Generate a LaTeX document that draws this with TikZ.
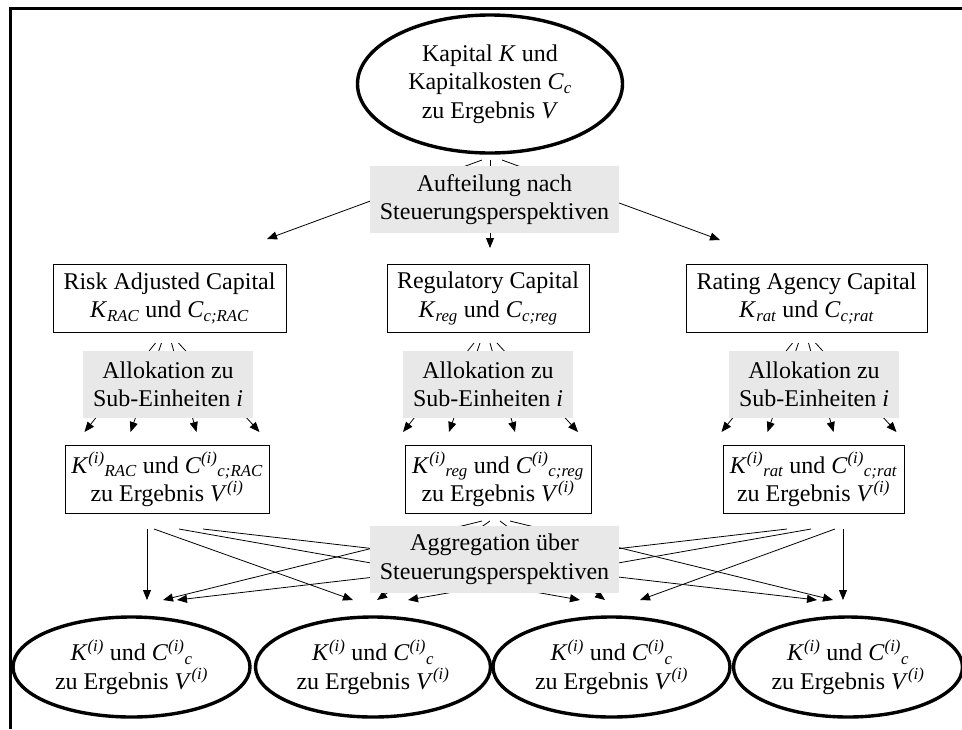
\documentclass[tikz,border=0pt]{standalone}
\usepackage{fontspec}
\setmainfont{Liberation Serif}
\usepackage{xcolor}
\usepackage{tikz}
\usetikzlibrary{shapes,arrows.meta}

\definecolor{hellgrau}{RGB}{232,232,232}
\newcommand{\tief}[1]{\textsubscript{\itshape #1}}
\newcommand{\hoch}[1]{\textsuperscript{\itshape #1}}

\begin{document}
\begin{tikzpicture}[x=1pt,y=-1pt,
    font=\fontsize{24}{28.5}\selectfont,
    oval/.style={draw,ellipse,line width=3.4pt,fill=white,align=center,inner sep=0pt},
    kasten/.style={draw,line width=1pt,fill=white,align=center,inner sep=0pt,minimum height=68},
    grau/.style={fill=hellgrau,align=center,inner sep=0pt,minimum height=67},
    pfeil/.style={line width=0.8pt,-{Triangle[length=10pt,width=8pt]}}]
    \useasboundingbox (0,0) rectangle (962,729);
    \draw[line width=3pt] (10,729) -- (10,8) -- (962,8);

    % Gesamtkapital
    \node[oval,minimum width=265,minimum height=138] (kap) at (490,84)
        {Kapital \textit{K} und\\Kapitalkosten \textit{C}\tief{c}\\zu Ergebnis \textit{V}};

    % Steuerungsperspektiven
    \node[kasten,minimum width=233] (rac) at (169.5,298.5)
        {Risk Adjusted Capital\\\textit{K}\tief{RAC} und \textit{C}\tief{c;RAC}};
    \node[kasten,minimum width=202] (reg) at (488,298.5)
        {Regulatory Capital\\\textit{K}\tief{reg} und \textit{C}\tief{c;reg}};
    \node[kasten,minimum width=241] (rat) at (806.5,298.5)
        {Rating Agency Capital\\\textit{K}\tief{rat} und \textit{C}\tief{c;rat}};

    % Sub-Einheiten
    \node[kasten,minimum width=204] (racI) at (167,479.5)
        {\textit{K}\hoch{(i)}\tief{RAC} und \textit{C}\hoch{(i)}\tief{c;RAC}\\zu Ergebnis \textit{V}\hoch{(i)}};
    \node[kasten,minimum width=186] (regI) at (498,479.5)
        {\textit{K}\hoch{(i)}\tief{reg} und \textit{C}\hoch{(i)}\tief{c;reg}\\zu Ergebnis \textit{V}\hoch{(i)}};
    \node[kasten,minimum width=181] (ratI) at (813.5,479.5)
        {\textit{K}\hoch{(i)}\tief{rat} und \textit{C}\hoch{(i)}\tief{c;rat}\\zu Ergebnis \textit{V}\hoch{(i)}};

    % aggregierte Ergebnisse
    \node[oval,minimum width=237,minimum height=100] (erg1) at (131.5,667)
        {\textit{K}\hoch{(i)} und \textit{C}\hoch{(i)}\tief{c}\\zu Ergebnis \textit{V}\hoch{(i)}};
    \node[oval,minimum width=235,minimum height=100] (erg2) at (373,667)
        {\textit{K}\hoch{(i)} und \textit{C}\hoch{(i)}\tief{c}\\zu Ergebnis \textit{V}\hoch{(i)}};
    \node[oval,minimum width=237,minimum height=100] (erg3) at (611.5,667)
        {\textit{K}\hoch{(i)} und \textit{C}\hoch{(i)}\tief{c}\\zu Ergebnis \textit{V}\hoch{(i)}};
    \node[oval,minimum width=229,minimum height=100] (erg4) at (848,667)
        {\textit{K}\hoch{(i)} und \textit{C}\hoch{(i)}\tief{c}\\zu Ergebnis \textit{V}\hoch{(i)}};

    % Aufteilung
    \path (482,160) coordinate (qRac) (490,160) coordinate (qReg) (502,160) coordinate (qRat);
    \path (267,239) coordinate (zRac) (490,248) coordinate (zReg) (720,240) coordinate (zRat);
    \draw[pfeil] (qRac) -- (zRac);
    \draw[pfeil] (qReg) -- (zReg);
    \draw[pfeil] (qRat) -- (zRat);

    % Allokation
    \foreach \k in {rac,reg,rat}{
        \foreach \sx/\dx [count=\n] in {-14/-85,-8/-39,2/27,9/90}{
            \coordinate (\k-q\n) at ([xshift=\sx pt,yshift=-10pt]\k.south);
            \coordinate (\k-\n) at ([xshift=\dx pt,yshift=-99pt]\k.south);
            \draw[pfeil] (\k-q\n) -- (\k-\n);
        }
    }

    % Aggregation: Startpunkte unter den Kaesten, Ziele ueber den Ellipsen
    \path (147,529) coordinate (racI-1) (154,529) coordinate (racI-2)
          (179,529) coordinate (racI-3) (203,529) coordinate (racI-4);
    \path (482,521) coordinate (regI-1) (490,521) coordinate (regI-2)
          (500,521) coordinate (regI-3) (510,521) coordinate (regI-4);
    \path (787,529) coordinate (ratI-1) (811,529) coordinate (ratI-2)
          (835,529) coordinate (ratI-3) (843,529) coordinate (ratI-4);
    \path (147,600) coordinate (erg1-a) (163,600) coordinate (erg1-b) (177,600) coordinate (erg1-c)
          (353,600) coordinate (erg2-a) (377,600) coordinate (erg2-b) (408,600) coordinate (erg2-c)
          (580,600) coordinate (erg3-a) (605,600) coordinate (erg3-b) (640,600) coordinate (erg3-c)
          (817,600) coordinate (erg4-a) (833,600) coordinate (erg4-b) (843,600) coordinate (erg4-c);
    \foreach \n in {1,...,4}{
        \draw[pfeil] (racI-\n) -- (erg\n-a);
        \draw[pfeil] (regI-\n) -- (erg\n-b);
        \draw[pfeil] (ratI-\n) -- (erg\n-c);
    }

    % graue Beschriftungen liegen ueber den Pfeilen
    \node[grau,minimum width=249] (auft) at (494.5,199.5) {Aufteilung nach\\Steuerungsperspektiven};
    \node[grau,minimum width=170] (allokRac) at (168,384.5) {Allokation zu\\Sub-Einheiten \textit{i}};
    \node[grau,minimum width=170] (allokReg) at (488,384.5) {Allokation zu\\Sub-Einheiten \textit{i}};
    \node[grau,minimum width=170] (allokRat) at (814,384.5) {Allokation zu\\Sub-Einheiten \textit{i}};
    \node[grau,minimum width=249] (aggr) at (494.5,559.5) {Aggregation über\\Steuerungsperspektiven};
\end{tikzpicture}
\end{document}
